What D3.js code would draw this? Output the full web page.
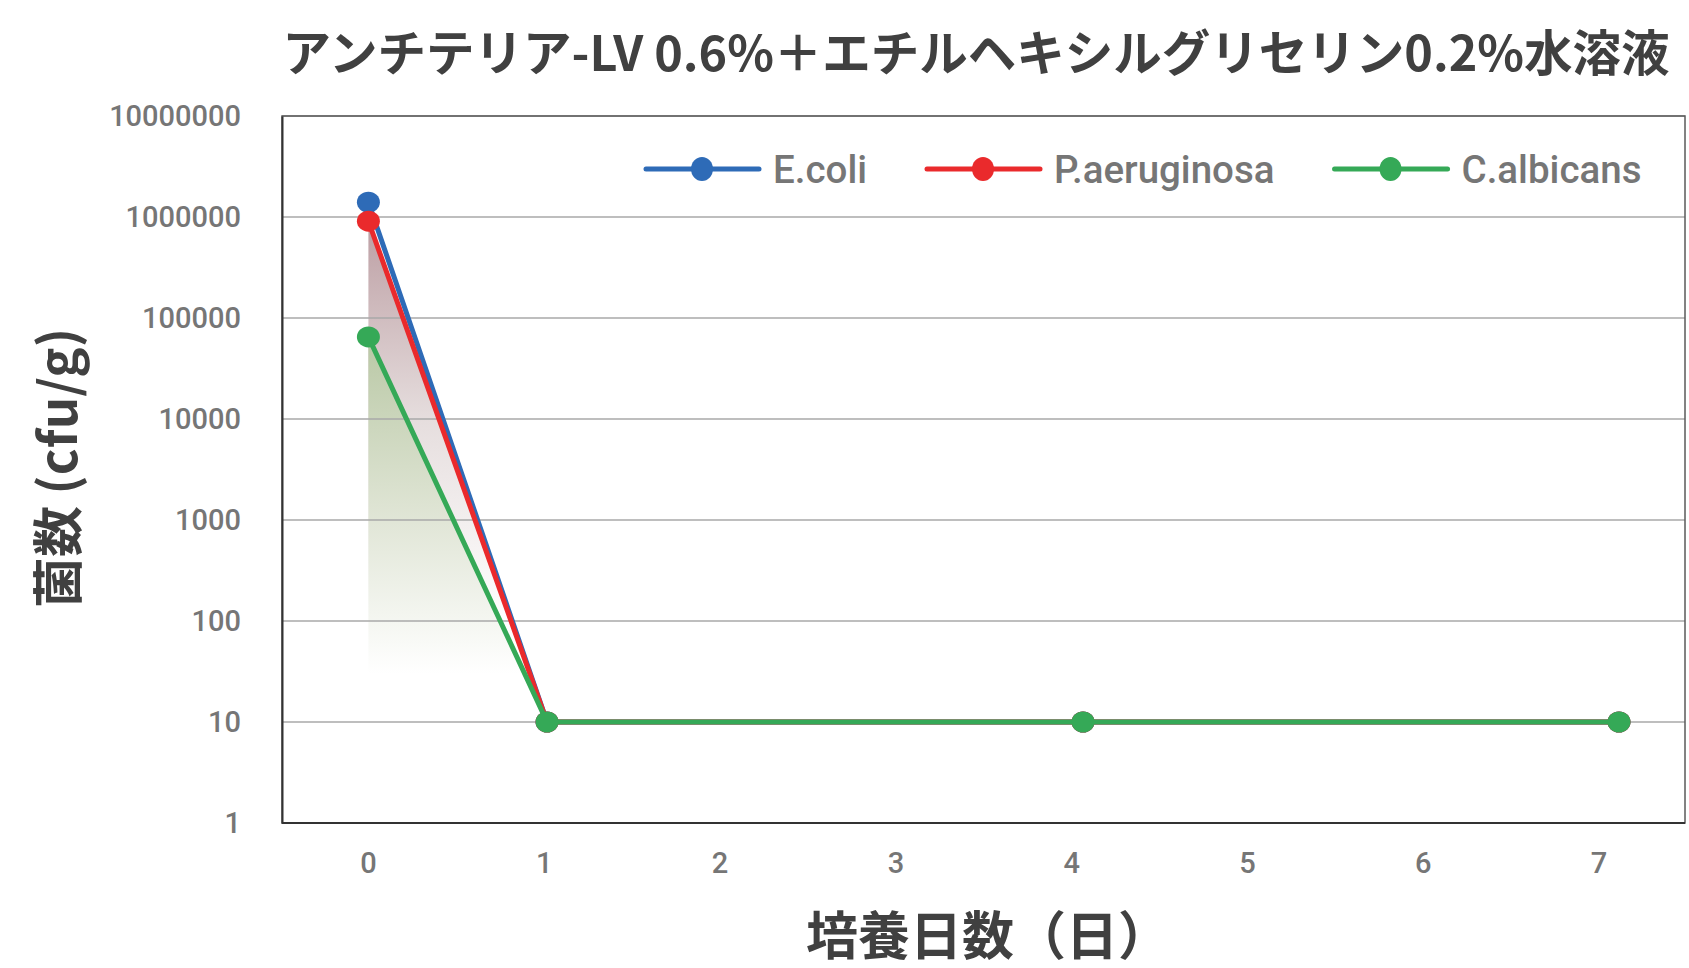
<!DOCTYPE html>
<html>
<head>
<meta charset="utf-8">
<script src="https://cdn.jsdelivr.net/npm/d3@7"></script>
<style>
  body { margin: 0; background: #fff; }
  svg { display: block; }
  .tick-label { font-family: Roboto, "Noto Sans", sans-serif; font-weight: 500; fill: #767676; }
  .ttl { font-family: "Noto Sans CJK JP", sans-serif; font-weight: 700; fill: #404040; }
</style>
</head>
<body>
<script>
// data
const days = [0, 1, 4, 7];
const seriesNames = ["E.coli", "P.aeruginosa", "C.albicans"];
const ecoli = [1400000, 10, 10, 10];
const paeru = [910000, 10, 10, 10];
const calbi = [65000, 10, 10, 10];
const dayTicks = [0, 1, 2, 3, 4, 5, 6, 7];
const countTicks = [1, 10, 100, 1000, 10000, 100000, 1000000, 10000000];
const colors = ["#2e6bb7", "#ea2a2c", "#35a957"];

const titleText = "アンチテリア-LV 0.6%＋エチルヘキシルグリセリン0.2%水溶液";
const yTitle = "菌数 (cfu/g)";
const xTitle = "培養日数（日）";

const w = 1689, h = 968;
const padL = 282, padR = 1685, padT = 116, padB = 823;

const svg = d3.select("body").append("svg")
  .attr("width", w)
  .attr("height", h);

const defs = svg.append("defs");

const y = d3.scaleLog()
  .domain([1, 10000000])
  .range([padB, padT]);

// points sit on a slightly wider grid than the day labels in the original
const x = d3.scaleLinear()
  .domain([0, 7])
  .range([368.4, 1619]);

const xTick = d3.scaleLinear()
  .domain([0, 7])
  .range([368, 1598.6]);

const all = [ecoli, paeru, calbi].map((vals, i) => ({
  name: seriesNames[i],
  color: colors[i],
  pts: days.map((d, j) => ({ day: d, v: vals[j] }))
}));

// shaded fills under the red and green drops (fade to white)
const fills = [
  { s: all[1], stops: [[0, "#bc9ea3"], [0.5, "#e6dede"], [1, "#ffffff"]], end: 100 },
  { s: all[2], stops: [[0, "#b9c8a5"], [0.55, "#e1e6d7"], [1, "#ffffff"]], end: 30 }
];

fills.forEach((f, i) => {
  const g = defs.append("linearGradient")
    .attr("id", "grad" + i)
    .attr("gradientUnits", "userSpaceOnUse")
    .attr("x1", 0).attr("x2", 0)
    .attr("y1", y(d3.max(f.s.pts, p => p.v)))
    .attr("y2", y(f.end));
  f.stops.forEach(st => g.append("stop").attr("offset", st[0]).attr("stop-color", st[1]));
});

const area = d3.area()
  .x(p => x(p.day))
  .y0(padB)
  .y1(p => y(p.v));

const line = d3.line()
  .x(p => x(p.day))
  .y(p => y(p.v));

svg.append("g")
  .selectAll("path")
  .data(fills)
  .join("path")
  .attr("d", f => area(f.s.pts))
  .attr("fill", (f, i) => "url(#grad" + i + ")");

// gridlines
svg.append("g")
  .selectAll("line")
  .data(countTicks.slice(1))
  .join("line")
  .attr("x1", padL)
  .attr("x2", padR)
  .attr("y1", d => y(d))
  .attr("y2", d => y(d))
  .attr("stroke", "#a8a8a8")
  .attr("stroke-width", 1.5);

// frame
svg.append("rect")
  .attr("x", padL).attr("y", padT)
  .attr("width", padR - padL).attr("height", padB - padT)
  .attr("fill", "none")
  .attr("stroke", "#5a5a5a")
  .attr("stroke-width", 1.5);

// y axis
const yAxis = d3.axisLeft(y)
  .tickValues(countTicks)
  .tickFormat(d3.format("d"))
  .tickSize(0)
  .tickPadding(41);

const yg = svg.append("g")
  .attr("transform", "translate(" + padL + ",0)")
  .call(yAxis);
yg.select(".domain").attr("stroke", "#333").attr("stroke-width", 2);
yg.selectAll("text").attr("class", "tick-label").style("font-size", "29px").attr("fill", null);

// x axis
const xAxis = d3.axisBottom(xTick)
  .tickValues(dayTicks)
  .tickFormat(d3.format("d"))
  .tickSize(0);

const xg = svg.append("g")
  .attr("transform", "translate(0," + padB + ")")
  .call(xAxis);
xg.select(".domain").attr("d", "M" + padL + ",0H" + padR).attr("stroke", "#333").attr("stroke-width", 2);
xg.selectAll("text").attr("class", "tick-label").style("font-size", "29px").attr("fill", null)
  .attr("y", 40).attr("dy", "0.36em");

// series
const sg = svg.append("g")
  .selectAll("g")
  .data(all)
  .join("g");

sg.append("path")
  .attr("d", s => line(s.pts))
  .attr("fill", "none")
  .attr("stroke", s => s.color)
  .attr("stroke-width", 5);

sg.selectAll("ellipse")
  .data(s => s.pts.map(p => ({ ...p, color: s.color })))
  .join("ellipse")
  .attr("cx", p => x(p.day))
  .attr("cy", p => y(p.v))
  .attr("rx", 11.5)
  .attr("ry", 10.5)
  .attr("fill", p => p.color);

// legend
const legend = svg.append("g").attr("transform", "translate(0,169)");
let lx = 646;
all.forEach(s => {
  const item = legend.append("g").attr("transform", "translate(" + lx + ",0)");
  item.append("line")
    .attr("x1", 0).attr("x2", 113)
    .attr("stroke", s.color)
    .attr("stroke-width", 5)
    .attr("stroke-linecap", "round");
  item.append("ellipse")
    .attr("cx", 56).attr("rx", 11).attr("ry", 12)
    .attr("fill", s.color);
  const t = item.append("text")
    .attr("class", "tick-label")
    .attr("x", 127)
    .attr("dy", "0.36em")
    .style("font-size", "38.5px")
    .text(s.name);
  lx += 127 + t.node().getComputedTextLength() + 60;
});

// titles
svg.append("text")
  .attr("class", "ttl")
  .attr("x", 976)
  .attr("y", 71)
  .attr("text-anchor", "middle")
  .style("font-size", "48.5px")
  .text(titleText);

svg.append("text")
  .attr("class", "ttl")
  .attr("transform", "translate(59,468) rotate(-90)")
  .attr("text-anchor", "middle")
  .attr("dy", "0.36em")
  .style("font-size", "51px")
  .text(yTitle);

svg.append("text")
  .attr("class", "ttl")
  .attr("x", 988)
  .attr("y", 955)
  .attr("text-anchor", "middle")
  .style("font-size", "52px")
  .text(xTitle);
</script>
</body>
</html>
